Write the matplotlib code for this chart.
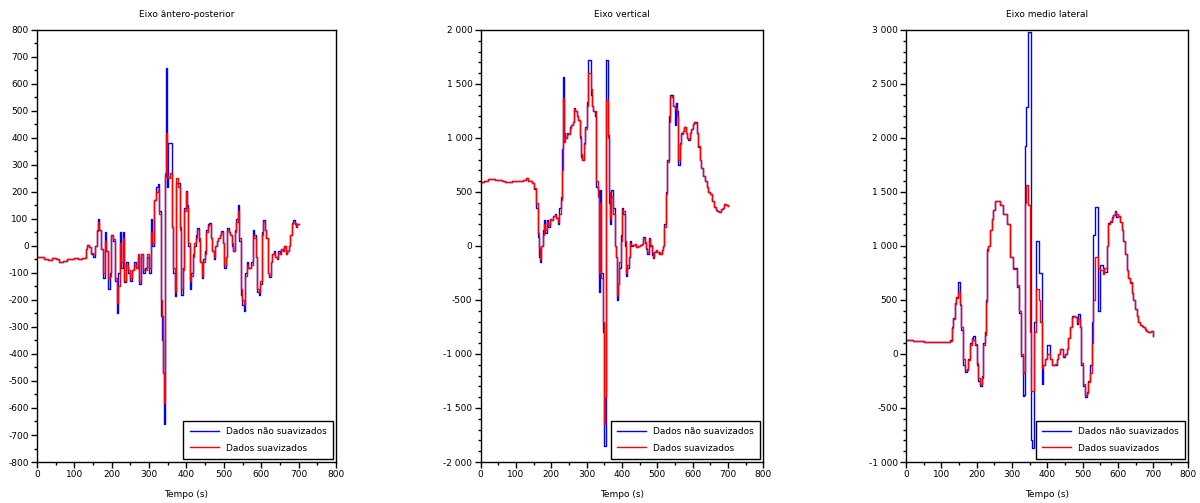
import numpy as np
import matplotlib
matplotlib.use('Agg')
import matplotlib.pyplot as plt
from matplotlib.ticker import MultipleLocator, FuncFormatter

# --- Eixo antero-posterior: tempo, dados brutos, dados suavizados ---
t_ap = [0, 10, 20, 30, 40, 50, 60, 70, 80, 90, 100, 110, 120, 130, 135, 140, 145, 150,
        155, 160, 163, 167, 172, 177, 181, 186, 190, 195, 199, 204, 209, 213, 218, 222,
        226, 230, 234, 239, 244, 249, 254, 259, 264, 269, 274, 279, 284, 289, 294, 299,
        304, 308, 313, 318, 323, 327, 331, 334, 337, 340, 343, 345, 348, 351, 356, 361,
        365, 369, 373, 378, 382, 386, 390, 394, 398, 402, 405, 409, 413, 417, 421, 425,
        429, 433, 437, 441, 445, 449, 453, 457, 461, 465, 469, 473, 477, 481, 485, 489,
        493, 497, 501, 505, 509, 513, 517, 521, 525, 529, 533, 537, 541, 545, 549, 553,
        557, 561, 565, 569, 573, 577, 581, 585, 589, 593, 597, 601, 605, 609, 613, 617,
        621, 625, 629, 633, 637, 641, 645, 649, 653, 657, 661, 665, 669, 673, 677, 681,
        685, 689, 693, 697, 700]
ap_raw = [-40, -42, -48, -52, -44, -50, -58, -55, -50, -47, -45, -47, -46, -10, 5, -5, -30, -40,
          0, 60, 100, 60, -10, -120, 50, -20, -160, -100, 40, 20, -130, -250, -100, 50,
          -80, 50, -135, -60, -100, -130, -90, -60, -80, -40, -140, -30, -100, -80, -40, -100,
          100, 0, 170, 220, 230, 130, -260, -350, -470, -660, 260, 660, 220, 380, 380, 70,
          -100, -185, 235, 235, 70, -180, -80, 140, 205, 150, 0, -160, -100, -30, 0, 40,
          65, 20, -60, -120, -50, -20, 60, 80, 85, 30, -20, -50, 0, 20, 30, 40,
          55, 10, -80, -40, 65, 50, 40, 0, -20, 60, 100, 150, 20, -180, -220, -240,
          -100, -60, -80, -80, -60, 60, 40, -40, -170, -180, -140, 50, 95, 60, 30, -100,
          -115, -60, -30, -20, -40, -50, -20, -30, -10, -20, 0, -30, -20, 0, 40, 85,
          95, 80, 70, 80, 80]
ap_smooth = [-40, -42, -48, -52, -44, -50, -58, -55, -50, -47, -45, -47, -46, -12, 3, -5, -25, -30,
             0, 55, 90, 60, -10, -100, 20, -20, -120, -110, 40, 25, -120, -210, -150, 10,
             -60, 30, -130, -70, -90, -120, -90, -70, -80, -30, -130, -30, -90, -90, -30, -80,
             50, 10, 170, 200, 210, 120, -200, -260, -470, -580, 270, 420, 260, 250, 270, 70,
             -80, -170, 250, 220, 60, -160, -90, 130, 200, 140, 10, -130, -110, -40, 10, 30,
             60, 30, -60, -110, -60, -30, 50, 75, 80, 30, -20, -40, 0, 20, 30, 40,
             50, 10, -70, -40, 60, 50, 40, 10, -20, 50, 90, 130, 30, -160, -200, -220,
             -110, -70, -80, -80, -70, 40, 30, -40, -160, -170, -130, 40, 90, 60, 30, -100,
             -110, -60, -30, -25, -40, -45, -25, -30, -10, -20, 0, -30, -20, 0, 40, 80,
             90, 85, 75, 80, 80]

# --- Eixo vertical ---
t_v = [0, 10, 20, 30, 40, 50, 60, 70, 80, 90, 100, 110, 120, 128, 133, 140, 146, 151, 156,
       161, 165, 168, 172, 176, 179, 183, 187, 191, 195, 200, 205, 210, 214, 218, 222, 226,
       229, 232, 236, 240, 244, 248, 252, 256, 260, 264, 268, 272, 276, 280, 284, 288, 292,
       296, 300, 303, 307, 311, 315, 319, 323, 327, 331, 334, 338, 342, 346, 349, 353, 356,
       360, 364, 367, 370, 375, 379, 382, 385, 389, 393, 397, 400, 404, 408, 411, 415, 419,
       423, 427, 431, 436, 441, 446, 451, 456, 460, 464, 468, 472, 476, 480, 484, 488, 492,
       496, 500, 504, 508, 512, 516, 520, 524, 528, 532, 537, 541, 545, 549, 553, 557, 560,
       564, 568, 572, 576, 580, 584, 588, 592, 596, 600, 604, 608, 612, 616, 620, 625, 630,
       635, 640, 645, 650, 655, 660, 665, 670, 675, 680, 685, 690, 695, 700]
v_raw = [590, 600, 620, 620, 615, 610, 600, 595, 595, 600, 605, 605, 610, 630, 600, 600, 580, 530, 350,
         80, -100, -150, 0, 150, 240, 120, 240, 180, 250, 240, 280, 300, 260, 200, 350, 450,
         900, 1560, 1050, 1000, 1050, 1040, 1100, 1120, 1150, 1280, 1250, 1200, 1170, 1000, 820, 800, 950,
         1100, 1330, 1720, 1720, 1400, 1300, 1250, 1200, 550, 520, -430, 520, -250, -800, -1850, -1850, 1720,
         1030, 400, 200, 520, 350, 0, -100, -500, -350, -200, 100, 350, 300, 0, -280, -200, -100,
         50, 0, 10, 20, -10, 0, 10, 20, 80, 30, -30, -70, 70, 0, -80, -110, -60,
         -40, -60, -70, -70, -40, 0, 200, 500, 800, 1200, 1400, 1400, 1300, 1120, 1320, 1250, 750,
         950, 1050, 1060, 1100, 1050, 1000, 980, 1050, 1080, 1130, 1150, 1150, 1050, 920, 800, 720, 650,
         600, 550, 500, 480, 420, 360, 330, 320, 310, 340, 350, 390, 380, 370]
v_smooth = [590, 600, 620, 620, 615, 610, 600, 595, 595, 600, 605, 605, 610, 625, 600, 600, 580, 540, 400,
            120, -20, -120, 0, 100, 200, 150, 220, 190, 250, 240, 280, 290, 260, 220, 300, 430,
            700, 1370, 960, 1000, 1040, 1040, 1090, 1120, 1150, 1270, 1250, 1200, 1170, 1020, 850, 800, 940,
            1080, 1300, 1600, 1600, 1450, 1300, 1250, 1250, 600, 450, -250, 400, -300, -700, -1650, -1400, 1350,
            1000, 500, 250, 450, 300, 0, -100, -450, -350, -150, 50, 330, 320, 50, -250, -180, -100,
            30, 10, 10, 20, -5, 0, 10, 20, 70, 40, -20, -60, 60, 10, -60, -100, -60,
            -40, -60, -60, -70, -40, 0, 180, 480, 780, 1150, 1380, 1390, 1300, 1270, 1280, 1200, 800,
            940, 1040, 1060, 1100, 1050, 1000, 990, 1050, 1080, 1130, 1150, 1140, 1050, 930, 800, 720, 650,
            600, 550, 500, 480, 420, 360, 330, 320, 310, 340, 350, 390, 380, 370]

# --- Eixo medio lateral ---
t_ml = [0, 10, 20, 30, 40, 50, 60, 70, 80, 90, 100, 110, 120, 125, 129, 134, 139, 143, 148,
        153, 157, 162, 167, 172, 176, 181, 186, 191, 195, 200, 205, 210, 214, 219, 224, 227,
        230, 233, 238, 243, 247, 252, 261, 266, 276, 285, 295, 304, 315, 321, 325, 330, 334,
        337, 341, 346, 350, 354, 358, 363, 368, 372, 376, 380, 384, 389, 394, 398, 403, 408,
        413, 418, 422, 427, 431, 436, 441, 446, 450, 455, 460, 464, 469, 474, 479, 483, 488,
        493, 497, 502, 507, 512, 516, 521, 526, 531, 535, 540, 545, 550, 557, 561, 568, 573,
        578, 582, 587, 592, 596, 601, 606, 611, 615, 620, 625, 630, 634, 639, 644, 649, 653,
        658, 663, 668, 672, 677, 681, 686, 691, 695, 699]
ml_raw = [130, 125, 122, 120, 118, 115, 115, 112, 115, 113, 115, 112, 110, 130, 250, 330, 470, 530, 670,
          450, 220, -100, -170, -150, -50, 100, 150, 170, 80, -100, -250, -300, -200, 100, 200, 500,
          970, 1000, 1150, 1250, 1330, 1420, 1420, 1380, 1300, 1200, 900, 800, 620, 380, -20, -390, -380,
          1930, 2290, 2980, 2980, -800, -870, 300, 1050, 1050, 750, 750, -280, -100, -50, 80, 80, -50,
          -100, -100, -100, -50, 0, 50, 50, -30, 0, 50, 150, 250, 350, 350, 340, 280, 370,
          250, -100, -300, -400, -350, -250, -100, 300, 1100, 1360, 1360, 400, 820, 800, 760, 1000, 1210,
          1220, 1270, 1290, 1320, 1270, 1280, 1220, 1150, 1050, 930, 780, 700, 670, 560, 500, 420, 350,
          300, 270, 260, 250, 230, 210, 200, 200, 210, 165]
ml_smooth = [130, 125, 122, 120, 118, 115, 115, 112, 115, 113, 115, 112, 110, 120, 240, 320, 460, 520, 570,
             460, 250, -50, -150, -140, -60, 80, 140, 130, 90, -80, -220, -280, -220, 80, 180, 480,
             950, 1000, 1150, 1250, 1330, 1420, 1420, 1380, 1300, 1200, 900, 790, 640, 400, 0, -180, -170,
             1400, 1560, 1380, 200, -340, -340, 200, 600, 600, 500, 300, -130, -100, -50, 0, 0, -50,
             -100, -100, -90, -50, 0, 50, 50, -20, 0, 50, 150, 250, 340, 350, 340, 300, 320,
             250, -80, -280, -380, -360, -260, -180, 100, 500, 900, 900, 800, 780, 740, 800, 1000, 1200,
             1230, 1260, 1290, 1310, 1300, 1280, 1220, 1150, 1050, 930, 780, 700, 660, 560, 500, 420, 350,
             300, 270, 260, 250, 230, 210, 200, 200, 210, 170]

titles = ['Eixo ântero-posterior', 'Eixo vertical', 'Eixo medio lateral']
ylims = [(-800, 800), (-2000, 2000), (-1000, 3000)]
ymajor = [100, 500, 500]
yminor = [50, 100, 100]


def milhar(v, pos):
    s = f'{abs(int(round(v))):,}'.replace(',', ' ')
    return ('-' if v < 0 else '') + s


plt.rcParams['font.family'] = 'DejaVu Sans'
plt.rcParams['font.size'] = 6.5

fig = plt.figure(figsize=(12, 5.03), dpi=100)
positions = [[0.0308, 0.0815, 0.2492, 0.859],
             [0.4006, 0.0815, 0.2354, 0.859],
             [0.7550, 0.0815, 0.2354, 0.859]]

series = [(t_ap, ap_raw, ap_smooth), (t_v, v_raw, v_smooth), (t_ml, ml_raw, ml_smooth)]

for i, (t, raw, smooth) in enumerate(series):
    ax = fig.add_axes(positions[i])
    ax.plot(t, raw, color='#0000ff', lw=1.0, drawstyle='steps-post', label='Dados não suavizados')
    ax.plot(t, smooth, color='#ff0000', lw=1.0, drawstyle='steps-post', label='Dados suavizados')
    ax.set_xlim(0, 800)
    ax.set_ylim(*ylims[i])
    ax.xaxis.set_major_locator(MultipleLocator(100))
    ax.xaxis.set_minor_locator(MultipleLocator(50))
    ax.yaxis.set_major_locator(MultipleLocator(ymajor[i]))
    ax.yaxis.set_minor_locator(MultipleLocator(yminor[i]))
    ax.yaxis.set_major_formatter(FuncFormatter(milhar))
    ax.tick_params(which='major', direction='out', length=4, width=1, labelsize=6.5, pad=2)
    ax.tick_params(which='minor', direction='out', length=2, width=1)
    for sp in ax.spines.values():
        sp.set_linewidth(1.0)
    ax.set_title(titles[i], fontsize=6.5, pad=9)
    ax.set_xlabel('Tempo (s)', fontsize=6.5, labelpad=8)
    leg = ax.legend(loc='lower right', fontsize=6.5, fancybox=False, edgecolor='black',
                    framealpha=1, handlelength=3.2, borderaxespad=0.35, borderpad=0.7,
                    labelspacing=0.8, handletextpad=0.8)
    leg.get_frame().set_linewidth(1.0)

fig.savefig('out.png', dpi=100)
